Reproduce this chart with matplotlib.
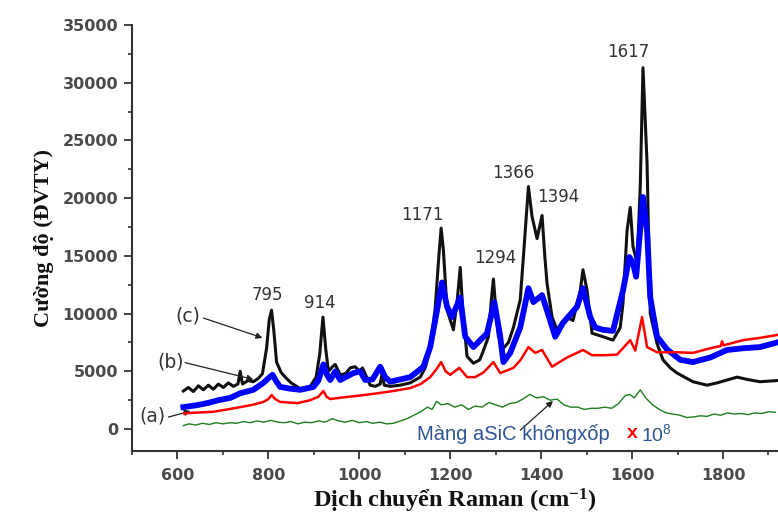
import matplotlib
matplotlib.use("Agg")
import matplotlib.pyplot as plt
from matplotlib.ticker import MultipleLocator

plt.rcParams['mathtext.default'] = 'regular'

# ---------------- data ----------------
wn_c = [613, 624, 635, 646, 657, 668, 679, 690, 701, 712, 723, 733, 738, 743, 755, 767, 778, 787, 796, 802,
        807, 812, 818, 828, 837, 850, 870, 892, 905, 913, 920, 926, 932, 941, 947, 958, 970, 980, 991, 1000,
        1007, 1015, 1024, 1035, 1046, 1050, 1055, 1068, 1090, 1112, 1134, 1145, 1156, 1167, 1175, 1180, 1185,
        1193, 1207, 1215, 1222, 1228, 1237, 1251, 1265, 1273, 1284, 1290, 1295, 1300, 1306, 1317, 1328, 1339,
        1354, 1362, 1372, 1380, 1391, 1402, 1408, 1413, 1424, 1435, 1446, 1457, 1470, 1486, 1492, 1501, 1512,
        1536, 1558, 1574, 1580, 1589, 1596, 1602, 1611, 1618, 1624, 1633, 1640, 1655, 1668, 1684, 1699, 1706,
        1734, 1765, 1787, 1809, 1831, 1853, 1881, 1919]
int_c = [3300, 3600, 3250, 3750, 3400, 3800, 3450, 3900, 3600, 4000, 3700, 3900, 5000, 3900, 4200, 4100, 4400,
         4800, 7000, 9500, 10300, 8500, 5800, 4900, 4500, 4000, 3500, 3700, 4500, 6500, 9700, 7000, 5000, 5400,
         5600, 4700, 4800, 5300, 5400, 5000, 5300, 4600, 3800, 3700, 3900, 4800, 3800, 3700, 3800, 4000, 4500,
         5300, 7000, 10500, 15000, 17400, 15500, 10300, 8600, 11000, 14000, 10000, 6300, 5700, 6000, 6800, 8000,
         11000, 13000, 10500, 8000, 7000, 7500, 8800, 11200, 15500, 21000, 18400, 16500, 18500, 15000, 12600,
         9700, 8600, 9200, 9700, 9400, 12000, 13800, 12000, 8300, 8000, 7700, 8800, 10900, 17200, 19200, 15800,
         14400, 21000, 31300, 23000, 10000, 7400, 6000, 5300, 4850, 4700, 4100, 3800, 4000, 4250, 4500, 4300,
         4100, 4200]

wn_b = [613, 640, 666, 690, 716, 738, 767, 789, 800, 809, 818, 826, 848, 870, 899, 910, 921, 929, 936, 947,
        958, 987, 1002, 1013, 1029, 1046, 1057, 1068, 1090, 1112, 1141, 1156, 1171, 1182, 1193, 1204, 1222,
        1233, 1251, 1281, 1297, 1310, 1317, 1332, 1354, 1372, 1383, 1402, 1415, 1431, 1448, 1479, 1492, 1508,
        1519, 1536, 1558, 1580, 1594, 1602, 1609, 1624, 1633, 1640, 1655, 1677, 1706, 1734, 1772, 1809, 1844,
        1881, 1919]
int_b = [1900, 2050, 2250, 2500, 2700, 3100, 3400, 4000, 4400, 4700, 4100, 3650, 3500, 3400, 3650, 4200, 5600,
         4700, 4250, 5000, 4250, 4850, 5000, 4250, 4300, 5400, 4500, 4100, 4300, 4500, 5400, 7100, 10300, 12700,
         10600, 9700, 11400, 8000, 7100, 8300, 11000, 8000, 5800, 6600, 8800, 12200, 11000, 11600, 10000, 8000,
         9200, 10600, 12200, 9700, 8800, 8600, 8500, 12000, 14900, 14400, 13200, 20100, 17200, 11400, 8000,
         6900, 6000, 5800, 6200, 6850, 7000, 7100, 7500]

wn_a = [615, 629, 655, 679, 710, 738, 765, 789, 800, 807, 815, 826, 845, 864, 892, 910, 921, 928, 936, 965,
        1000, 1040, 1075, 1112, 1135, 1156, 1170, 1180, 1190, 1200, 1220, 1237, 1255, 1273, 1295, 1310, 1339,
        1355, 1372, 1387, 1402, 1424, 1457, 1492, 1512, 1540, 1567, 1596, 1607, 1622, 1633, 1655, 1699, 1734,
        1772, 1795, 1798, 1801, 1844, 1881, 1919]
int_a = [1350, 1400, 1450, 1500, 1700, 1900, 2100, 2350, 2600, 2950, 2600, 2350, 2300, 2250, 2500, 2800, 3300,
         2800, 2600, 2750, 2900, 3100, 3300, 3550, 3900, 4500, 5200, 5800, 5000, 4700, 5300, 4500, 4500, 4900,
         5800, 4850, 5300, 6000, 7100, 6600, 6850, 5400, 6200, 6850, 6400, 6400, 6450, 7700, 6800, 9700, 7100,
         6650, 6650, 6600, 7000, 7200, 7600, 7250, 7700, 7900, 8150]

wn_g = [613, 625, 640, 655, 670, 685, 700, 715, 730, 745, 760, 775, 790, 805, 820, 835, 850, 865, 880, 895,
        910, 925, 940, 955, 970, 985, 1000, 1015, 1030, 1045, 1060, 1075, 1090, 1105, 1120, 1135, 1150, 1160,
        1170, 1180, 1195, 1210, 1225, 1240, 1255, 1270, 1285, 1300, 1315, 1330, 1345, 1360, 1375, 1390, 1405,
        1420, 1435, 1450, 1465, 1480, 1495, 1510, 1525, 1540, 1555, 1570, 1585, 1595, 1605, 1618, 1630, 1645,
        1660, 1675, 1690, 1705, 1720, 1735, 1750, 1765, 1780, 1795, 1810, 1825, 1840, 1855, 1870, 1885, 1900,
        1915]
int_g = [300, 450, 350, 500, 400, 550, 450, 550, 500, 650, 550, 700, 600, 750, 600, 550, 650, 450, 600, 550,
         700, 600, 900, 700, 600, 750, 550, 650, 500, 600, 450, 500, 700, 900, 1200, 1500, 1900, 1700, 2400,
         2100, 2200, 1900, 2100, 1700, 2000, 1900, 2300, 2100, 1900, 2200, 2300, 2600, 3000, 2700, 2800, 2500,
         2600, 2100, 1900, 1900, 1700, 1800, 1800, 1900, 1800, 2200, 2900, 3000, 2700, 3400, 2700, 2100, 1700,
         1400, 1300, 1200, 1000, 1050, 1150, 1100, 1300, 1200, 1400, 1300, 1350, 1250, 1400, 1350, 1500, 1450]

peak_labels = ["795", "914", "1171", "1294", "1366", "1394", "1617"]
x_ticks = [600, 800, 1000, 1200, 1400, 1600, 1800]
y_ticks = [0, 5000, 10000, 15000, 20000, 25000, 30000, 35000]

# ---------------- figure ----------------
fig = plt.figure(figsize=(7.78, 5.18), dpi=100)
ax = fig.add_axes([132/778, 67/518, 646/778, 426/518])

ax.plot(wn_c, int_c, color='#111111', lw=2.2, zorder=2, solid_joinstyle='round')
ax.plot(wn_b, int_b, color='#0000ff', lw=4.2, zorder=3, solid_joinstyle='round')
ax.plot(wn_a, int_a, color='#ff0000', lw=1.8, zorder=4, solid_joinstyle='round')
ax.plot(wn_g, int_g, color='#1e7d1e', lw=1.0, zorder=5)

ax.set_xlim(500, 1921)
ax.set_ylim(-1900, 35000)

for s in ['top', 'right']:
    ax.spines[s].set_visible(False)
for s in ['left', 'bottom']:
    ax.spines[s].set_color('#333333')
    ax.spines[s].set_linewidth(1.5)

ax.set_xticks(x_ticks)
ax.set_yticks(y_ticks)
ax.xaxis.set_minor_locator(MultipleLocator(100))
ax.yaxis.set_minor_locator(MultipleLocator(2500))
ax.tick_params(which='major', direction='out', length=6, width=1.3, color='#333333',
               labelsize=11.5, labelcolor='#4a4a4a')
ax.tick_params(which='minor', direction='out', length=3, width=1.2, color='#333333')
ax.tick_params(axis='y', pad=4)
ax.tick_params(axis='x', pad=6)
for lab in ax.get_xticklabels() + ax.get_yticklabels():
    lab.set_fontweight('bold')

ax.set_xlabel('Dịch chuyển Raman (cm$^{-1}$)', family=['Liberation Serif', 'DejaVu Serif'],
              fontweight='bold', fontsize=17.5, color='#111111', labelpad=3)
ax.set_ylabel('Cường độ (ĐVTY)', family=['Liberation Serif', 'DejaVu Serif'],
              fontweight='bold', fontsize=16, color='#111111', labelpad=6)

# peak labels
label_pos = [(798, 11600), (914, 10900), (1139, 18500), (1299, 14800), (1338, 22200), (1437, 20100), (1591, 32700)]
for t, (x, y) in zip(peak_labels, label_pos):
    ax.text(x, y, t, ha='center', va='center', fontsize=12, color='#333333', zorder=6)

# curve labels with arrows
arrow_kw = dict(arrowstyle='-|>', color='#222222', lw=0.9, mutation_scale=9, shrinkA=0, shrinkB=0)
ax.text(622, 9790, '(c)', ha='center', va='center', fontsize=13.5, color='#333333')
ax.annotate('', xy=(787, 7900), xytext=(657, 9620), arrowprops=arrow_kw)
ax.text(585, 5800, '(b)', ha='center', va='center', fontsize=13.5, color='#333333')
ax.annotate('', xy=(767, 4300), xytext=(617, 5750), arrowprops=arrow_kw)
ax.text(545, 1130, '(a)', ha='center', va='center', fontsize=13.5, color='#333333')
ax.annotate('', xy=(629, 1560), xytext=(580, 1040), arrowprops=arrow_kw)

# non-porous film label
ax.annotate('', xy=(1426, 2430), xytext=(1354, -100), arrowprops=arrow_kw)
ax.text(0.441, 0.040, 'Màng aSiC khôngxốp', transform=ax.transAxes, ha='left', va='center',
        fontsize=14.5, color='#2f5496', family='Liberation Sans')
ax.text(0.775, 0.040, 'x', transform=ax.transAxes, ha='center', va='center',
        fontsize=14, color='#ff0000', family='Liberation Sans', fontweight='bold')
ax.text(0.788, 0.040, '10$^{8}$', transform=ax.transAxes, ha='left', va='center',
        fontsize=14, color='#2f5496', family='Liberation Sans')

fig.savefig('out.png', dpi=100)
